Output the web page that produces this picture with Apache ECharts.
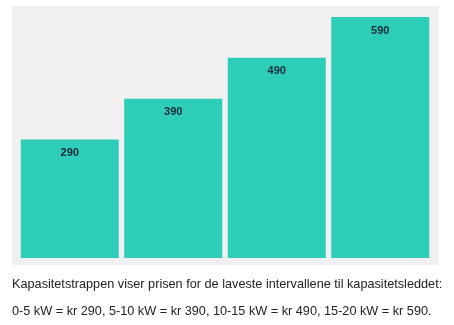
<!DOCTYPE html>
<html><head><meta charset="utf-8">
<script src="https://cdn.jsdelivr.net/npm/echarts@6/dist/echarts.min.js"></script>
<style>html,body{margin:0;padding:0;background:#fff}#c{width:454px;height:325px}</style>
</head><body><div id="c"></div>
<script>
const categories = ['0-5 kW', '5-10 kW', '10-15 kW', '15-20 kW'];
const prices = [290, 390, 490, 590];
const captionLine1 = 'Kapasitetstrappen viser prisen for de laveste intervallene til kapasitetsleddet:';
const captionLine2 = '0-5 kW = kr 290, 5-10 kW = kr 390, 10-15 kW = kr 490, 15-20 kW = kr 590.';

const chart = echarts.init(document.getElementById('c'), null, {renderer: 'canvas'});
chart.setOption({
  animation: false,
  backgroundColor: '#ffffff',
  graphic: [
    {type: 'rect', z: -10, shape: {x: 12, y: 6, width: 427, height: 259}, style: {fill: '#f0f0f0'}},
    {type: 'text', left: 12, top: 278, style: {text: captionLine1, fontFamily: 'Liberation Sans, Arial, sans-serif', fontSize: 12.7, fill: '#222'}},
    {type: 'text', left: 12, top: 305, style: {text: captionLine2, fontFamily: 'Liberation Sans, Arial, sans-serif', fontSize: 12.7, fill: '#222'}}
  ],
  grid: {left: 18, right: 22, top: 17, bottom: 67, containLabel: false},
  xAxis: {type: 'category', data: categories, show: false},
  yAxis: {type: 'value', min: 0, max: 590, show: false},
  series: [{
    type: 'bar',
    data: prices,
    barWidth: 98,
    itemStyle: {color: '#2dcdb8'},
    label: {
      show: true, position: 'insideTop', distance: 8,
      fontFamily: 'Liberation Sans, Arial, sans-serif', fontSize: 11, fontWeight: 'bold', color: '#1b2b3a'
    }
  }]
});
</script></body></html>
